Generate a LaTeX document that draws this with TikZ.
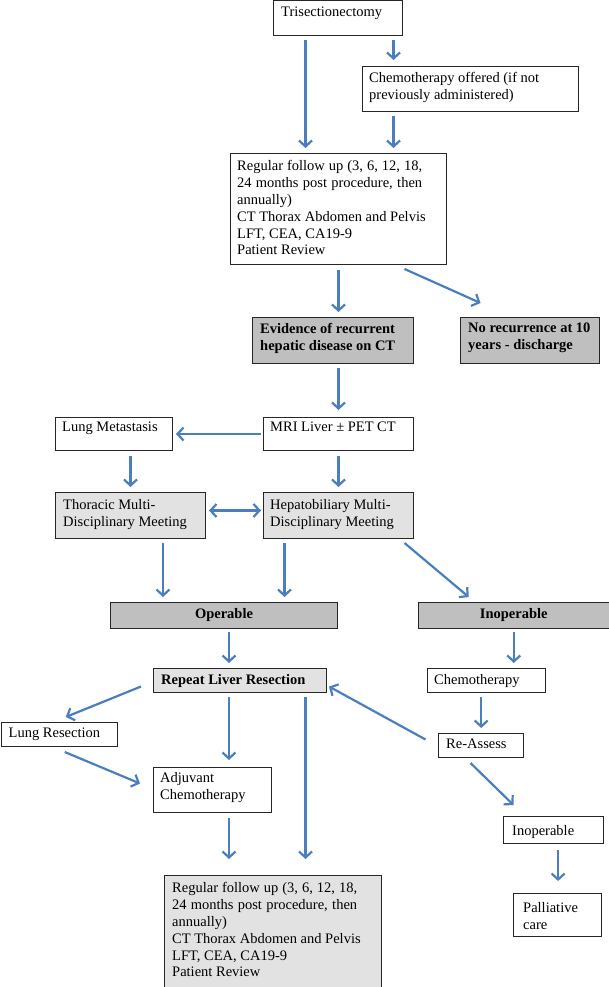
\documentclass[tikz,border=0pt]{standalone}
\usepackage{fontspec}
\setmainfont{Liberation Serif}
\usetikzlibrary{arrows.meta}
\definecolor{dgray}{RGB}{191,191,191}
\definecolor{lgray}{RGB}{226,226,226}
\definecolor{arrblue}{RGB}{74,126,190}
\newcommand\bx[9]{%
  \node[#6, minimum width={(#4-#2)*1pt}, minimum height={(#5-#3)*1pt}, anchor=north west] (#1) at (#2,#3) {};
  \node[txt, anchor=north west] (#1-t) at ({#2+#7},{#3+#8}) {#9};}
\newcommand\jline[1]{\makebox[185pt][s]{#1}}
\newcommand\followtext{\jline{Regular follow up (3, 6, 12, 18,}\\\jline{24 months post procedure, then}\\annually)\\CT Thorax Abdomen and Pelvis\\LFT, CEA, CA19-9\\Patient Review}
\begin{document}
\begin{tikzpicture}[x=1pt,y=-1pt,
  wbox/.style={draw=black!85, line width=1pt, fill=white, inner sep=0pt},
  dbox/.style={wbox, fill=dgray},
  lbox/.style={wbox, fill=lgray},
  txt/.style={inner sep=0pt, align=left, font=\fontsize{14.5}{16.9}\selectfont},
  arr/.style={draw=arrblue, line width=2.2pt, -{Straight Barb[length=6pt,width=13pt]}},
  darr/.style={draw=arrblue, line width=2.2pt, {Straight Barb[length=6pt,width=13pt]}-{Straight Barb[length=6pt,width=13pt]}}]
\useasboundingbox (0,0) rectangle (609,987);
\bx{triS}{273}{0.5}{402}{35}{wbox}{8}{6}{Trisectionectomy}
\bx{chemoO}{362}{66}{578}{111}{wbox}{7}{6}{Chemotherapy offered (if not\\previously administered)}
\bx{fu1}{230}{153}{446}{264}{wbox}{7}{7}{\followtext}
\bx{evid}{252}{317}{413}{363}{dbox}{8}{6}{\bfseries Evidence of recurrent\\\bfseries hepatic disease on CT}
\bx{norec}{460}{317}{599}{363}{dbox}{8}{6}{\bfseries No recurrence at 10\\\bfseries years - discharge}
\bx{mri}{263}{417}{413}{450}{wbox}{7}{5}{MRI Liver ± PET CT}
\bx{lungmet}{55}{417}{172}{450}{wbox}{7}{5}{Lung Metastasis}
\bx{thor}{55}{492}{205}{538}{lbox}{8}{7}{Thoracic Multi-\\Disciplinary Meeting}
\bx{hep}{263}{492}{413}{538}{lbox}{7}{7}{Hepatobiliary Multi-\\Disciplinary Meeting}
\node[dbox, minimum width=227pt, minimum height=26pt, anchor=north west, font=\fontsize{14.5}{16.7}\selectfont\bfseries] (oper) at (110,602) {Operable};
\node[dbox, minimum width=190.5pt, minimum height=26pt, anchor=north west, font=\fontsize{14.5}{16.7}\selectfont\bfseries] (inop) at (418,602) {Inoperable};
\bx{rep}{153}{668}{326}{692}{lbox}{8}{6}{\bfseries Repeat Liver Resection}
\bx{chemo}{427}{668}{545}{692}{wbox}{7}{6}{Chemotherapy}
\bx{lungres}{0.5}{722}{117}{746}{wbox}{8}{6}{Lung Resection}
\bx{reas}{438}{733}{523}{757}{wbox}{8}{6}{Re-Assess}
\bx{adj}{153}{767}{271}{812}{wbox}{7}{5}{Adjuvant\\Chemotherapy}
\bx{inop2}{503}{816}{603}{843}{wbox}{9}{9}{Inoperable}
\bx{pall}{513}{893}{601}{936}{wbox}{10}{9}{Palliative\\care}
\bx{fu2}{164}{875}{381}{986.5}{lbox}{8}{7}{\followtext}
% connectors
\draw[arr, shorten <=4pt, shorten >=5pt] ([xshift=-32.5pt]triS.south) -- ([xshift=-32.5pt]triS.south |- fu1.north);
\draw[arr, shorten <=4pt, shorten >=6pt] ([xshift=55.5pt]triS.south) -- ([xshift=55.5pt]triS.south |- chemoO.north);
\draw[arr, shorten <=4pt, shorten >=5pt] ([xshift=-77pt]chemoO.south) -- ([xshift=-77pt]chemoO.south |- fu1.north);
\draw[arr, shorten <=5pt, shorten >=5pt] (fu1.south) -- (fu1.south |- evid.north);
\draw[arr] ([xshift=66pt,yshift=-4pt]fu1.south) -- ([xshift=-49.5pt,yshift=14pt]norec.north);
\draw[arr, shorten <=4pt, shorten >=7pt] ([xshift=5.5pt]evid.south) -- ([xshift=5.5pt]evid.south |- mri.north);
\draw[arr, shorten <=2pt, shorten >=3pt] (mri.west) -- (lungmet.east);
\draw[arr, shorten <=5pt, shorten >=5pt] ([xshift=16.5pt]lungmet.south) -- ([xshift=16.5pt]lungmet.south |- thor.north);
\draw[arr, shorten <=5pt, shorten >=5pt] (mri.south) -- (hep.north);
\draw[darr, shorten <=3pt, shorten >=2pt] ([yshift=5pt]thor.east) -- ([yshift=5pt]hep.west);
\draw[arr, shorten <=4pt, shorten >=5pt] ([xshift=32.5pt]thor.south) -- ([xshift=32.5pt]thor.south |- oper.north);
\draw[arr, shorten <=4pt, shorten >=5pt] ([xshift=-54pt]hep.south) -- ([xshift=-54pt]hep.south |- oper.north);
\draw[arr] ([xshift=66pt,yshift=-4pt]hep.south) -- ([xshift=-45pt,yshift=5pt]inop.north);
\draw[arr, shorten <=3pt, shorten >=5pt] ([xshift=5pt]oper.south) -- ([xshift=5pt]oper.south |- rep.north);
\draw[arr, shorten <=3pt, shorten >=5pt] (inop.south) -- (inop.south |- chemo.north);
\draw[arr] ([xshift=-12pt,yshift=-6pt]rep.west) -- ([xshift=6.5pt,yshift=5pt]lungres.north);
\draw[arr] ([xshift=5.5pt,yshift=-5pt]lungres.south) -- ([xshift=-13pt,yshift=6.5pt]adj.west);
\draw[arr, shorten <=4pt, shorten >=7pt] ([xshift=-11pt]rep.south) -- ([xshift=-11pt]rep.south |- adj.north);
\draw[arr, shorten <=4pt, shorten >=16pt] ([xshift=65.5pt]rep.south) -- ([xshift=65.5pt]rep.south |- fu2.north);
\draw[arr, shorten <=5pt, shorten >=16pt] ([xshift=16.5pt]adj.south) -- ([xshift=16.5pt]adj.south |- fu2.north);
\draw[arr] ([xshift=-12.5pt,yshift=6pt]reas.west) -- ([xshift=2pt,yshift=-6pt]rep.east);
\draw[arr, shorten <=4pt, shorten >=5pt] ([xshift=-5.3pt]chemo.south) -- ([xshift=-5.3pt]chemo.south |- reas.north);
\draw[arr] ([xshift=-10.5pt,yshift=-5pt]reas.south) -- ([xshift=-40pt,yshift=11pt]inop2.north);
\draw[arr, shorten <=6pt, shorten >=12pt] ([xshift=4.6pt]inop2.south) -- ([xshift=4.6pt]inop2.south |- pall.north);
\end{tikzpicture}
\end{document}
